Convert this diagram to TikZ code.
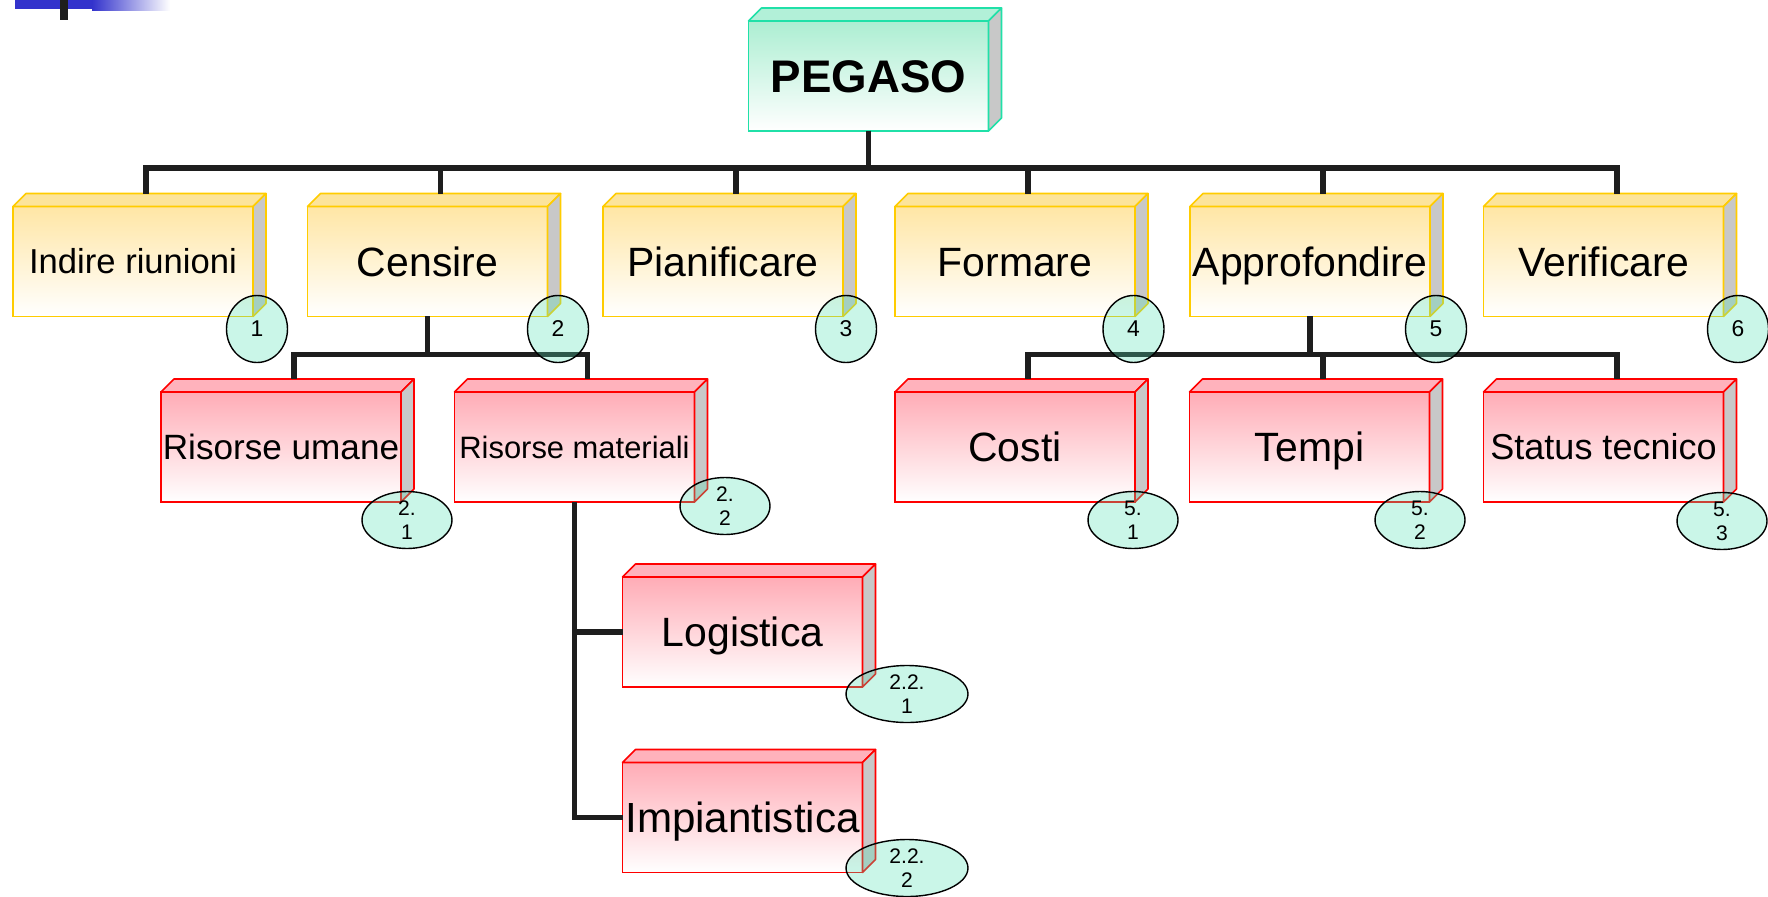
\documentclass[tikz,border=0pt]{standalone}
\usepackage{fontspec}
\setmainfont{Liberation Sans}
\usetikzlibrary{shapes.geometric}

\definecolor{edgeY}{RGB}{255,204,0}
\definecolor{faceY}{RGB}{255,230,165}
\definecolor{topY}{RGB}{252,228,155}
\definecolor{edgeR}{RGB}{255,0,0}
\definecolor{faceR}{RGB}{255,172,182}
\definecolor{topR}{RGB}{255,178,188}
\definecolor{edgeT}{RGB}{32,224,168}
\definecolor{faceT}{RGB}{172,238,210}
\definecolor{topT}{RGB}{178,240,216}
\definecolor{sideGray}{RGB}{200,200,200}
\definecolor{lineGray}{RGB}{30,30,30}
\definecolor{tagMint}{RGB}{80,225,180}
\definecolor{barBlue}{RGB}{51,51,204}

\begin{document}
\begin{tikzpicture}
[x=0.02cm,y=-0.02cm,
  lineDecorate/.style={draw=lineGray,line width=3.4pt},
  boxDecorate/.style={shape=rectangle,inner sep=0pt,outer sep=0pt,minimum width=4.8cm,minimum height=2.2cm,line width=0.9pt},
  faceDecorate/.style={line width=0.9pt,line join=round},
  tagDecorate/.style={shape=ellipse,inner sep=0pt,draw=black,line width=0.8pt,fill=tagMint,fill opacity=0.3,text opacity=1,align=center}]
\useasboundingbox (0,0) rectangle (1768,896);
%% corner mark
\fill[barBlue] (15,0) rectangle (92,9);
\shade[left color=barBlue,right color=white] (92,0) rectangle (170,10);
\fill[lineGray] (60,0) rectangle (68,20);
%% boxes
\foreach \nodename/\x/\y/\kind/\size/\nodetext in {
  pegaso/868.5/76/T/26/{\bfseries PEGASO},
  indire/133/261.5/Y/19.7/Indire riunioni, censire/427.5/261.5/Y/23.3/Censire,
  pianificare/723/261.5/Y/23.3/Pianificare, formare/1015/261.5/Y/23.3/Formare,
  approfondire/1310/261.5/Y/23.3/Approfondire, verificare/1603.5/261.5/Y/23.3/Verificare,
  umane/281/447/R/20/Risorse umane, materiali/574.5/447/R/17.6/Risorse materiali,
  costi/1015/447/R/23.3/Costi, tempi/1309.5/447/R/23.3/Tempi,
  status/1603.5/447/R/20.5/Status tecnico,
  logistica/742.5/632/R/23.3/Logistica, impianti/742.5/817.5/R/24/Impiantistica}
{
  \node (\nodename) at (\x,\y) [boxDecorate,draw=edge\kind,top color=face\kind,bottom color=white,
    text height={0.716*\size pt},text depth=0pt]
    {\fontsize{\size}{\size}\selectfont\nodetext};
  \filldraw[faceDecorate,fill=top\kind,draw=edge\kind] (\nodename.north west) -- ++(13,-13) -- ++(240,0) -- (\nodename.north east) -- cycle;
  \filldraw[faceDecorate,fill=sideGray,draw=edge\kind] (\nodename.north east) -- ++(13,-13) -- ++(0,110) -- (\nodename.south east) -- cycle;
}
%% connectors
\foreach \child in {indire,censire,pianificare,formare,approfondire,verificare}
  \draw[lineDecorate] (pegaso.south) -- ++(0,37) -| ([shift={(13,-13)}]\child.north);
\foreach \child in {umane,materiali}
  \draw[lineDecorate] (censire.south) -- ++(0,38) -| ([shift={(13,-13)}]\child.north);
\foreach \child in {costi,tempi,status}
  \draw[lineDecorate] (approfondire.south) -- ++(0,38) -| ([shift={(13,-13)}]\child.north);
\foreach \child in {logistica,impianti}
  \draw[lineDecorate] (materiali.south) |- (\child.west);
%% number tags
\foreach \tagname/\x/\tagtext in {
  num1/257/1, num2/558/2, num3/846/3, num4/1133.5/4, num5/1436/5, num6/1738/6}
{
  \node (\tagname) at (\x,329) [tagDecorate,minimum width=1.22cm,minimum height=1.34cm,
    font=\fontsize{13}{15}\selectfont] {\raisebox{-1.2pt}{\tagtext}};
}
\foreach \tagname/\x/\y/\rx/\tagtext in {
  num21/407/520/45/{2.\\1}, num22/725/506/45/{2.\\2},
  num51/1133/520/45/{5.\\1}, num52/1420/520/45/{5.\\2}, num53/1722/521/45/{5.\\3},
  num221/907/694/61/{2.2.\\1}, num222/907/868/61/{2.2.\\2}}
{
  \node (\tagname) at (\x,\y) [tagDecorate,minimum width={\rx*0.04cm},minimum height=1.14cm,
    font=\fontsize{12}{13.6}\selectfont] {\tagtext};
}
\end{tikzpicture}
\end{document}
